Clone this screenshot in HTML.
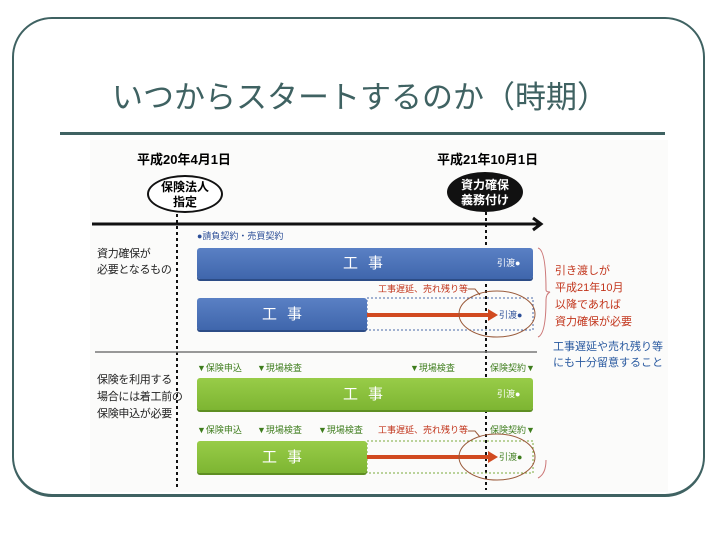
<!DOCTYPE html>
<html><head><meta charset="utf-8"><style>
body{margin:0;width:720px;height:540px;background:#fff;position:relative;overflow:hidden;font-family:"Liberation Sans","Noto Sans CJK JP",sans-serif}
.a{position:absolute;white-space:nowrap;line-height:1}
.frame{position:absolute;left:12px;top:17px;width:693px;height:480px;border:2px solid #3f6262;border-bottom-width:3px;border-radius:40px;box-sizing:border-box}
.title{left:0;width:720px;text-align:center;top:82px;font-size:31px;color:#3f6262}
.bar{position:absolute;border-radius:3px}
.blue{background:linear-gradient(#5a80c4,#3f66ac);box-shadow:0 2px 0 #2c4c86}
.green{background:linear-gradient(#98cc48,#7db532);box-shadow:0 2px 0 #5e8e22}
.bt{color:#fff;font-size:15px;letter-spacing:10px}
.s{font-size:9px}
.lab{font-size:11px;color:#222;letter-spacing:-0.3px}
.red{color:#c2351c}
.gr{color:#3e7d1d;font-size:9px}
</style></head><body>
<div class="frame"></div>
<div class="a title">いつからスタートするのか（時期）</div>
<div class="a" style="left:60px;top:132px;width:605px;height:3px;background:#3f6262"></div>
<div class="a" style="left:90px;top:140px;width:578px;height:352px;background:#fbfbfa"></div>

<div class="a" style="left:137px;top:153px;font-size:13px;font-weight:bold">平成20年4月1日</div>
<div class="a" style="left:437px;top:153px;font-size:13px;font-weight:bold">平成21年10月1日</div>
<div class="a" style="left:147px;top:175px;width:76px;height:38px;border:2px solid #111;border-radius:50%;background:#fff;box-sizing:border-box"></div>
<div class="a" style="left:147px;top:180px;width:76px;text-align:center;font-size:12px;font-weight:bold;line-height:15px">保険法人<br>指定</div>
<div class="a" style="left:447px;top:172px;width:76px;height:40px;border-radius:50%;background:#111"></div>
<div class="a" style="left:447px;top:178px;width:76px;text-align:center;font-size:12px;font-weight:bold;line-height:15px;color:#fff">資力確保<br>義務付け</div>

<svg class="a" style="left:0;top:0" width="720" height="540">
<line x1="92" y1="224" x2="540" y2="224" stroke="#111" stroke-width="3"/>
<polyline points="533,218 541,224 533,230" fill="none" stroke="#111" stroke-width="3"/>
<line x1="177" y1="214" x2="177" y2="490" stroke="#111" stroke-width="2" stroke-dasharray="3,3"/>
<line x1="486" y1="212" x2="486" y2="490" stroke="#111" stroke-width="2" stroke-dasharray="3,3"/>
<line x1="95" y1="352" x2="537" y2="352" stroke="#777" stroke-width="1.5"/>
<rect x="367" y="298" width="166" height="32" fill="none" stroke="#4a6aa8" stroke-dasharray="2,2"/>
<rect x="367" y="441" width="166" height="32" fill="none" stroke="#7aa83a" stroke-dasharray="2,2"/>
<line x1="367" y1="315" x2="490" y2="315" stroke="#d14a20" stroke-width="4"/>
<polygon points="488,309 498,315 488,321" fill="#d14a20"/>
<line x1="367" y1="457" x2="490" y2="457" stroke="#d14a20" stroke-width="4"/>
<polygon points="488,451 498,457 488,463" fill="#d14a20"/>
<ellipse cx="497" cy="314" rx="38" ry="23" fill="none" stroke="#9a5a3a" stroke-width="1"/>
<ellipse cx="497" cy="457" rx="38" ry="23" fill="none" stroke="#9a5a3a" stroke-width="1"/>
<polyline points="468,289 475,289 480,295" fill="none" stroke="#9a5a3a"/>
<polyline points="468,431 475,431 480,437" fill="none" stroke="#9a5a3a"/>
<path d="M538,248 Q546,250 546,290 Q546,292 550,292 Q546,294 546,300 Q546,334 538,337" fill="none" stroke="#c77" stroke-width="1"/>
<path d="M538,478 Q546,474 546,460" fill="none" stroke="#c77" stroke-width="1"/>
</svg>

<div class="a s" style="left:197px;top:232px;color:#2d4f98">●請負契約・売買契約</div>
<div class="a lab" style="left:97px;top:246px;line-height:16px">資力確保が<br>必要となるもの</div>
<div class="bar blue" style="left:197px;top:248px;width:336px;height:31px"></div>
<div class="a bt" style="left:343px;top:256px">工事</div>
<div class="a s" style="left:497px;top:259px;color:#fff">引渡●</div>
<div class="a s red" style="left:378px;top:285px">工事遅延、売れ残り等</div>
<div class="bar blue" style="left:197px;top:298px;width:170px;height:32px"></div>
<div class="a bt" style="left:262px;top:307px">工事</div>
<div class="a s" style="left:499px;top:311px;color:#2d4f98">引渡●</div>
<div class="a red" style="left:555px;top:263px;font-size:11px;line-height:17px">引き渡しが<br>平成21年10月<br>以降であれば<br>資力確保が必要</div>
<div class="a" style="left:553px;top:339px;font-size:11px;line-height:16px;color:#2a5aa0">工事遅延や売れ残り等<br>にも十分留意すること</div>

<div class="a lab" style="left:97px;top:372px;line-height:17px">保険を利用する<br>場合には着工前の<br>保険申込が必要</div>
<div class="a gr" style="left:197px;top:364px">▼保険申込</div>
<div class="a gr" style="left:257px;top:364px">▼現場検査</div>
<div class="a gr" style="left:410px;top:364px">▼現場検査</div>
<div class="a gr" style="left:490px;top:364px">保険契約▼</div>
<div class="bar green" style="left:197px;top:378px;width:336px;height:32px"></div>
<div class="a bt" style="left:343px;top:387px">工事</div>
<div class="a s" style="left:497px;top:390px;color:#fff">引渡●</div>
<div class="a gr" style="left:197px;top:426px">▼保険申込</div>
<div class="a gr" style="left:257px;top:426px">▼現場検査</div>
<div class="a gr" style="left:318px;top:426px">▼現場検査</div>
<div class="a s red" style="left:378px;top:426px">工事遅延、売れ残り等</div>
<div class="a gr" style="left:490px;top:426px">保険契約▼</div>
<div class="bar green" style="left:197px;top:441px;width:170px;height:32px"></div>
<div class="a bt" style="left:262px;top:450px">工事</div>
<div class="a s" style="left:499px;top:453px;color:#3e7d1d">引渡●</div>
</body></html>
